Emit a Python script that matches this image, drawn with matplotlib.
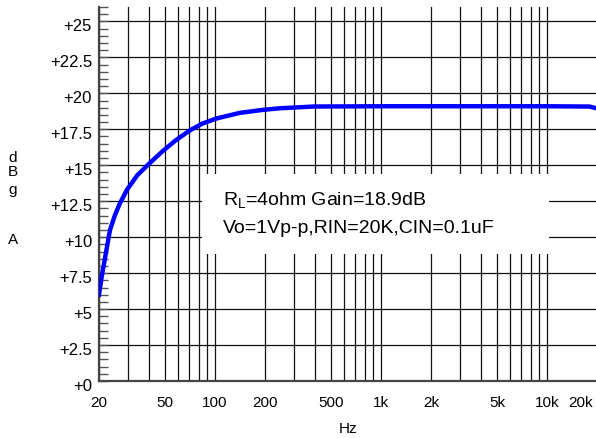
import matplotlib
matplotlib.use('Agg')
import matplotlib.pyplot as plt
from matplotlib.ticker import FixedLocator, MultipleLocator, FixedFormatter, NullFormatter
from matplotlib.patches import Rectangle
from matplotlib.transforms import ScaledTranslation

plt.rcParams['font.family'] = ['Liberation Sans', 'DejaVu Sans']
plt.rcParams['mathtext.fontset'] = 'custom'
plt.rcParams['mathtext.rm'] = 'Liberation Sans'
plt.rcParams['mathtext.it'] = 'Liberation Sans:italic'

# ---- data ----
freq = [20, 20.8, 22.4, 23.3, 24.9, 26.6, 29.5, 34, 40, 48.6, 57.5, 70, 84, 102,
        141, 195, 246, 390, 1000, 10000, 18000, 20000]
gain_db = [6.0, 7.3, 9.4, 10.5, 11.5, 12.3, 13.3, 14.3, 15.1, 16.0, 16.7, 17.4,
           17.9, 18.25, 18.64, 18.85, 18.96, 19.08, 19.1, 19.1, 19.08, 18.95]

x_major = [20, 50, 100, 200, 500, 1000, 2000, 5000, 10000, 20000]
x_labels = ['20', '50', '100', '200', '500', '1k', '2k', '5k', '10k', '20k']
x_minor = [30, 40, 60, 70, 80, 90, 300, 400, 600, 700, 800, 900,
           3000, 4000, 6000, 7000, 8000, 9000]
y_major = [0, 2.5, 5, 7.5, 10, 12.5, 15, 17.5, 20, 22.5, 25]
y_labels = ['+0', '+2.5', '+5', '+7.5', '+10', '+12.5', '+15', '+17.5',
            '+20', '+22.5', '+25']
side_letters = ['d', 'B', 'g', 'A']
note_line1 = r'R$_{\mathrm{L}}$=4ohm Gain=18.9dB'
note_line2 = 'Vo=1Vp-p,RIN=20K,CIN=0.1uF'

W, H = 596, 439
fig = plt.figure(figsize=(W / 100, H / 100), dpi=100)
ax = fig.add_axes([99 / W, 57 / H, 498 / W, 374 / H])

ax.plot(freq, gain_db, color='#0000ff', lw=3.2, zorder=4)

ax.set_xscale('log')
ax.set_xlim(20, 20000)
ax.set_ylim(0, 26)

ax.xaxis.set_major_locator(FixedLocator(x_major))
ax.xaxis.set_major_formatter(FixedFormatter(x_labels))
ax.xaxis.set_minor_locator(FixedLocator(x_minor))
ax.xaxis.set_minor_formatter(NullFormatter())
ax.tick_params(axis='x', which='both', length=0, pad=10, labelsize=11)

ax.yaxis.set_major_locator(FixedLocator(y_major))
ax.yaxis.set_major_formatter(FixedFormatter(y_labels))
ax.yaxis.set_minor_locator(MultipleLocator(0.5))
ax.tick_params(axis='y', which='both', direction='in', length=6.5, width=1.0,
               color='#555555', pad=5, labelsize=12)

ax.grid(True, axis='x', which='both', color='#111111', lw=0.9)
ax.grid(True, axis='y', which='major', color='#111111', lw=0.9)
ax.set_axisbelow(True)

for s in ('top', 'right'):
    ax.spines[s].set_visible(False)
for s in ('left', 'bottom'):
    ax.spines[s].set_color('#444444')
    ax.spines[s].set_linewidth(1.6)

xt = ax.xaxis.get_major_ticks()
xt[-1].gridline.set_visible(False)
xt[-1].label1.set_horizontalalignment('right')
xt[-1].label1.set_transform(xt[-1].label1.get_transform() +
                            ScaledTranslation(-4 / 100, 0, fig.dpi_scale_trans))
for t in ax.yaxis.get_major_ticks():
    t.label1.set_transform(t.label1.get_transform() +
                           ScaledTranslation(0, -3 / 100, fig.dpi_scale_trans))

# white note box
ax.add_patch(Rectangle((0.207, 0.340), 0.697, 0.213, transform=ax.transAxes,
                       facecolor='white', edgecolor='none', zorder=1))
ax.text(0.249, 0.473, note_line1, transform=ax.transAxes, fontsize=14,
        va='baseline', ha='left', zorder=5)
ax.text(0.249, 0.398, note_line2, transform=ax.transAxes, fontsize=14,
        va='baseline', ha='left', zorder=5)

fig.text(348 / W, 1 - 429 / H, 'Hz', ha='center', va='center', fontsize=11)
for letter, ypx in zip(side_letters, [158, 172, 190, 240]):
    fig.text(13 / W, 1 - ypx / H, letter, ha='center', va='center', fontsize=11)

fig.savefig('out.png', dpi=100, facecolor='white')
